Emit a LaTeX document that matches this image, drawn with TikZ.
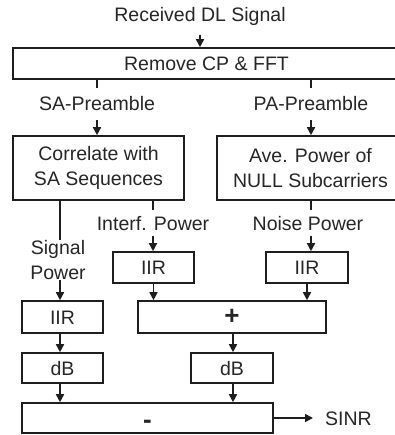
\documentclass[tikz,border=0pt]{standalone}
\usepackage{fontspec}
\setmainfont{Liberation Sans}
\usetikzlibrary{arrows.meta}
\definecolor{ln}{HTML}{1E1E1E}
\definecolor{tx}{HTML}{262626}
\begin{document}
\begin{tikzpicture}[x=1pt,y=-1pt,
  every node/.style={font=\fontsize{19.5}{25}\selectfont, text=tx},
  blk/.style={draw=ln, line width=1.6pt, inner sep=0pt, text height=14pt, text depth=0pt},
  blk2/.style={draw=ln, line width=1.6pt, inner sep=0pt, align=center},
  lbl/.style={inner xsep=0pt, text height=14pt, text depth=0pt},
  lbl2/.style={inner sep=0pt, align=center},
  sym/.style={font=\fontsize{26}{30}\selectfont\bfseries},
  con/.style={line width=1.6pt, draw=ln},
  arr/.style={con, -{Triangle[length=8pt,width=8pt]}}]
\useasboundingbox (0,0) rectangle (394,435);
\coordinate (c1) at (60,0);
\coordinate (c2) at (153,0);
\coordinate (c3) at (311,0);
\coordinate (c4) at (233,0);
\node[lbl, inner ysep=12.5pt] (rx) at (200,15) {Received DL Signal};
\node[blk, minimum width=387pt, minimum height=31pt] (cp) at (206.5,63.5) {Remove CP \& FFT};
\node[lbl, inner ysep=9pt] (sa) at (97,104) {SA-Preamble};
\node[lbl, inner ysep=9pt] (pa) at (311,104) {PA-Preamble};
\node[blk2, minimum width=171pt, minimum height=64pt] (corr) at (98.5,168) {Correlate with\\SA Sequences};
\node[blk2, minimum width=187pt, minimum height=64pt] (ave) at (310.5,168) {Ave. Power of\\NULL Subcarriers};
\node[lbl, inner ysep=5.5pt] (intf) at (153,223) {Interf. Power};
\node[lbl, inner ysep=5.5pt] (noise) at (308,223) {Noise Power};
\node[lbl2] (sig) at (58,260) {Signal\\Power};
\node[blk, minimum width=81pt, minimum height=31pt] (iirm) at (153.5,267.5) {IIR};
\node[blk, minimum width=82pt, minimum height=31pt] (iirr) at (307,267.5) {IIR};
\node[blk, minimum width=81pt, minimum height=32pt] (iirl) at (62.5,317) {IIR};
\node[blk, sym, minimum width=188pt, minimum height=32pt, text height=15pt] (plus) at (232,317) {+};
\node[blk, minimum width=81pt, minimum height=30pt] (dbl) at (62.5,368) {dB};
\node[blk, minimum width=82pt, minimum height=30pt] (dbr) at (232,368) {dB};
\node[blk, sym, minimum width=251pt, minimum height=30pt, text height=21pt] (minus) at (147.5,418) {-};
\node[lbl, anchor=west, inner xsep=12pt] (sinr) at (313,418) {SINR};

\draw[arr] (rx.south) -- (rx.south |- cp.north);
\draw[con] (cp.south -| sa.north) -- (sa.north);
\draw[con] (cp.south -| pa.north) -- (pa.north);
\draw[arr] (sa.south) -- (sa.south |- corr.north);
\draw[arr] (pa.south) -- (pa.south |- ave.north);
\draw[con] (corr.south -| c1) -- (sig.north -| c1);
\draw[arr] (sig.south -| c1) -- (iirl.north -| c1);
\draw[con] (corr.south -| c2) -- (intf.north -| c2);
\draw[arr] (intf.south -| c2) -- (iirm.north -| c2);
\draw[con] (ave.south -| c3) -- (noise.north -| c3);
\draw[arr] (noise.south -| c3) -- (iirr.north -| c3);
\draw[arr] (iirm.south) -- (iirm.south |- plus.north);
\draw[arr] (iirr.south) -- (iirr.south |- plus.north);
\draw[arr] (iirl.south -| c1) -- (dbl.north -| c1);
\draw[arr] (plus.south -| c4) -- (dbr.north -| c4);
\draw[arr] (dbl.south -| c1) -- (minus.north -| c1);
\draw[arr] (dbr.south -| c4) -- (minus.north -| c4);
\draw[arr] (minus.east) -- (sinr.west);
\end{tikzpicture}
\end{document}
